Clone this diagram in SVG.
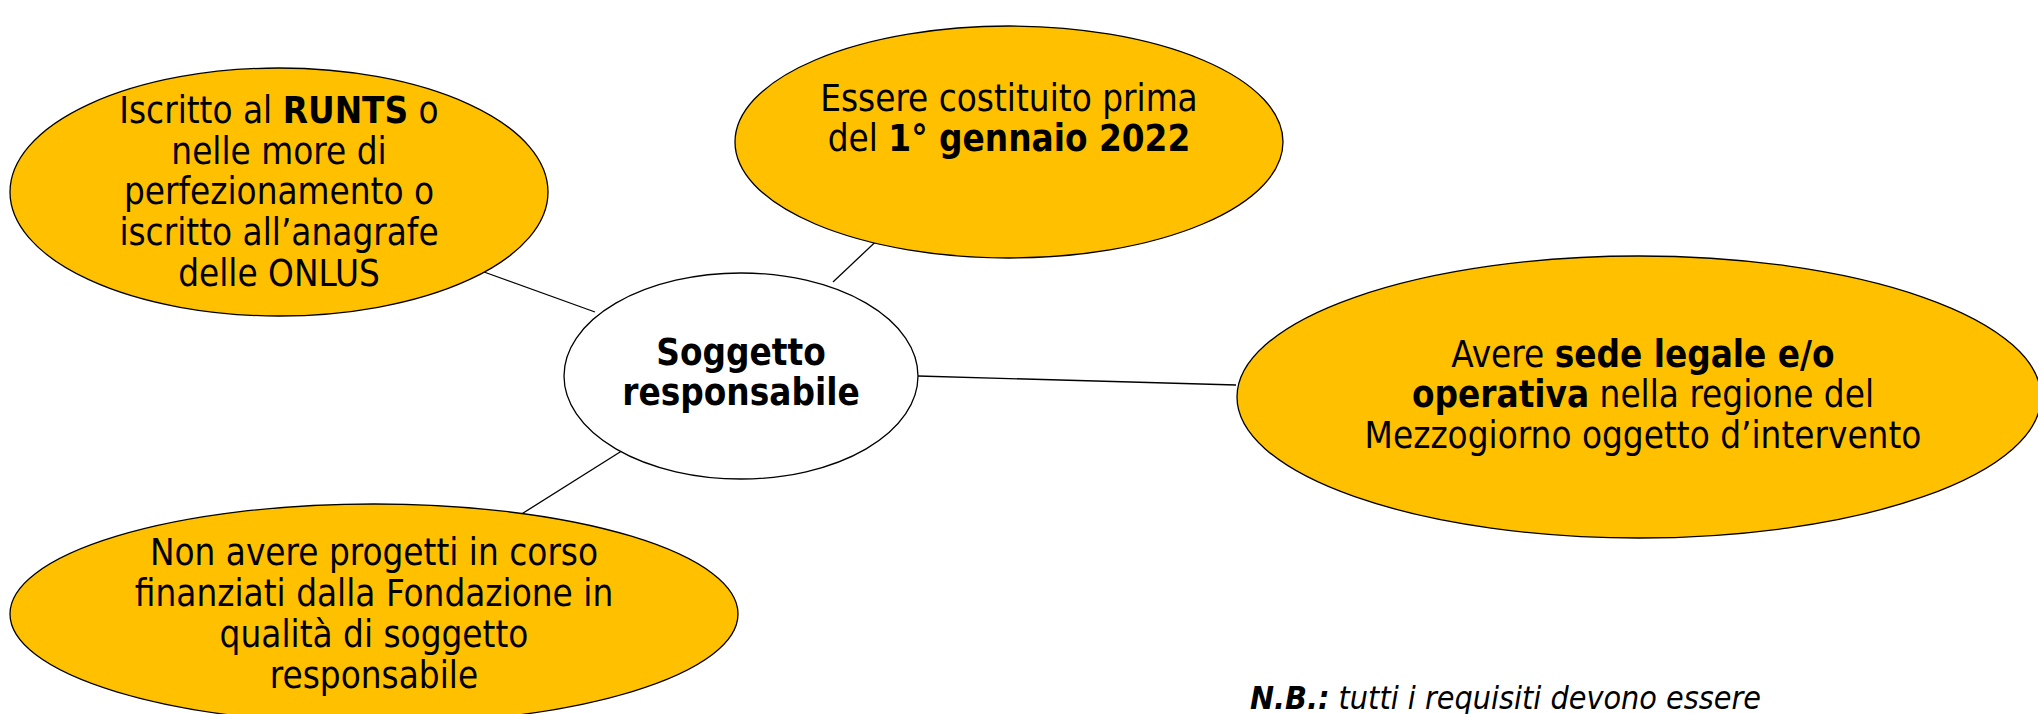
<svg xmlns="http://www.w3.org/2000/svg" width="2038" height="714" viewBox="0 0 2038 714">
<style>
.n{fill:#FFC000;stroke:#000;stroke-width:1.3}
.c{fill:#FFFFFF;stroke:#000;stroke-width:1.3}
text{font-family:"DejaVu Sans Condensed","DejaVu Sans",sans-serif;font-size:36.5px;fill:#000;text-anchor:middle}
.b{font-weight:bold}
.e{stroke:#000;stroke-width:1.3;fill:none}
</style>
<rect width="2038" height="714" fill="#fff"/>
<g id="connectors">
<line class="e" x1="484" y1="272" x2="595" y2="312"/>
<line class="e" x1="905" y1="214" x2="833" y2="282"/>
<line class="e" x1="918" y1="376" x2="1236" y2="385"/>
<line class="e" x1="628" y1="447" x2="520" y2="515"/>
</g>
<g id="n1">
<ellipse class="n" cx="279" cy="192" rx="269" ry="124"/>
<text x="279" y="123">Iscritto al <tspan class="b">RUNTS</tspan> o</text>
<text x="279" y="164">nelle more di</text>
<text x="279" y="204">perfezionamento o</text>
<text x="279" y="245">iscritto all’anagrafe</text>
<text x="279" y="286">delle ONLUS</text>
</g>
<g id="n2">
<ellipse class="n" cx="1009" cy="142" rx="274" ry="116"/>
<text x="1009" y="111">Essere costituito prima</text>
<text x="1009" y="151">del <tspan class="b">1° gennaio 2022</tspan></text>
</g>
<g id="center">
<ellipse class="c" cx="741" cy="376" rx="177" ry="103"/>
<text class="b" x="741" y="365">Soggetto</text>
<text class="b" x="741" y="405">responsabile</text>
</g>
<g id="n3">
<ellipse class="n" cx="1639" cy="397" rx="402" ry="141"/>
<text x="1643" y="367">Avere <tspan class="b">sede legale e/o</tspan></text>
<text x="1643" y="407"><tspan class="b">operativa</tspan> nella regione del</text>
<text x="1643" y="448">Mezzogiorno oggetto d’intervento</text>
</g>
<g id="n4">
<ellipse class="n" cx="374" cy="614" rx="364" ry="110"/>
<text x="374" y="565">Non avere progetti in corso</text>
<text x="374" y="606">finanziati dalla Fondazione in</text>
<text x="374" y="647">qualità di soggetto</text>
<text x="374" y="688">responsabile</text>
</g>
<g id="note">
<text x="1250" y="709" style="text-anchor:start;font-style:italic;font-size:32px"><tspan class="b">N.B.:</tspan> tutti i requisiti devono essere</text>
</g>
</svg>
